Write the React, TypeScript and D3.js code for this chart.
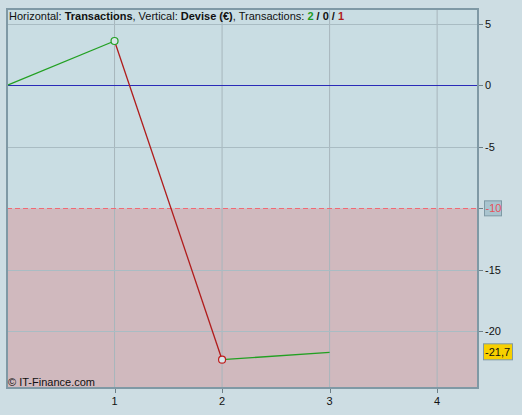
import React from "react";
import * as d3 from "d3";

const xValues = [0, 1, 2, 3];
const yValues = [0, 3.6, -22.3, -21.7];
const markerIdx = [1, 2];
const yTicks = [5, 0, -5, -10, -15, -20];
const xTicks = [1, 2, 3, 4];
const threshold = -10;
const lastLabel = "-21,7";

const W = 522, H = 415;
const L = 7, R = 478, T = 9, B = 388;

export default function App() {
  const x = d3.scaleLinear().domain([0, 4.38]).range([L, R]);
  const y = d3.scaleLinear().domain([6.2, -24.6]).range([T, B]);
  const segs = yValues.slice(1).map((v, i) => ({
    x0: xValues[i], x1: xValues[i + 1], y0: yValues[i], y1: v,
  }));
  const font = "Arial, 'Liberation Sans', sans-serif";
  return (
    <svg width={W} height={H} style={{ position: "absolute", left: 0, top: 0, display: "block" }} fontFamily={font}>
      <rect x={0} y={0} width={W} height={H} fill="#cddde3" />
      <rect x={L} y={T} width={R - L} height={B - T} fill="#c9dde3" />
      <rect x={L} y={y(threshold)} width={R - L} height={B - y(threshold)} fill="#d0b9be" />
      {xTicks.map((t) => (
        <line key={"gx" + t} x1={x(t)} x2={x(t)} y1={T} y2={B} stroke="#a7b6bc" strokeWidth={1} />
      ))}
      {yTicks.filter((t) => t !== 0 && t !== threshold).map((t) => (
        <line key={"gy" + t} x1={L} x2={R} y1={Math.round(y(t)) + 0.5} y2={Math.round(y(t)) + 0.5} stroke="#a9bcc3" strokeWidth={1} />
      ))}
      <line x1={L} x2={R} y1={Math.round(y(0)) + 0.5} y2={Math.round(y(0)) + 0.5} stroke="#2a2ab8" strokeWidth={1} />
      <line x1={L} x2={R} y1={Math.round(y(threshold)) + 0.5} y2={Math.round(y(threshold)) + 0.5} stroke="#f06a74" strokeWidth={1} strokeDasharray="5,3" />
      {segs.map((s, i) => (
        <line key={"s" + i} x1={x(s.x0)} y1={y(s.y0)} x2={x(s.x1)} y2={y(s.y1)}
          stroke={s.y1 >= s.y0 ? "#22a022" : "#b01c1c"} strokeWidth={1.3} />
      ))}
      {markerIdx.map((i) => (
        <circle key={"m" + i} cx={x(xValues[i])} cy={y(yValues[i])} r={3.5}
          fill="#d8e6ea" stroke={yValues[i] >= yValues[i - 1] ? "#22a022" : "#c01c1c"} strokeWidth={1.2} />
      ))}
      <rect x={L} y={T} width={R - L} height={B - T} fill="none" stroke="#7f99a5" strokeWidth={2} />
      {yTicks.map((t) => (
        <g key={"yt" + t}>
          <line x1={R + 1} x2={R + 5} y1={Math.round(y(t)) + 0.5} y2={Math.round(y(t)) + 0.5} stroke="#6d7f87" />
          {t === threshold ? (
            <g>
              <rect x={484.5} y={y(t) - 7.5} width={17} height={15} fill="#a9c4cf" stroke="#7f99a5" />
              <text x={485.5} y={y(t) + 4} fontSize={11} fill="#e8505a">{String(t)}</text>
            </g>
          ) : (
            <text x={485} y={y(t) + 4} fontSize={11} fill="#111">{String(t)}</text>
          )}
        </g>
      ))}
      <rect x={483.5} y={y(yValues[3]) - 8.5} width={29} height={16} fill="#f7d000" stroke="#7f99a5" />
      <text x={485} y={y(yValues[3]) + 3.5} fontSize={11} fill="#111">{lastLabel}</text>
      {xTicks.map((t) => (
        <g key={"xt" + t}>
          <line x1={Math.round(x(t)) + 0.5} x2={Math.round(x(t)) + 0.5} y1={B + 1} y2={B + 5} stroke="#6d7f87" />
          <text x={x(t)} y={B + 17} fontSize={11} textAnchor="middle" fill="#111">{String(t)}</text>
        </g>
      ))}
      <text x={9} y={20} fontSize={11} fill="#111">
        Horizontal: <tspan fontWeight="bold">Transactions</tspan>, Vertical: <tspan fontWeight="bold">Devise (€)</tspan>, Transactions: <tspan fontWeight="bold" fill="#1e9a1e">2</tspan><tspan fontWeight="bold"> / 0 / </tspan><tspan fontWeight="bold" fill="#b01c1c">1</tspan>
      </text>
      <text x={8} y={386} fontSize={11} fill="#111">© IT-Finance.com</text>
    </svg>
  );
}
